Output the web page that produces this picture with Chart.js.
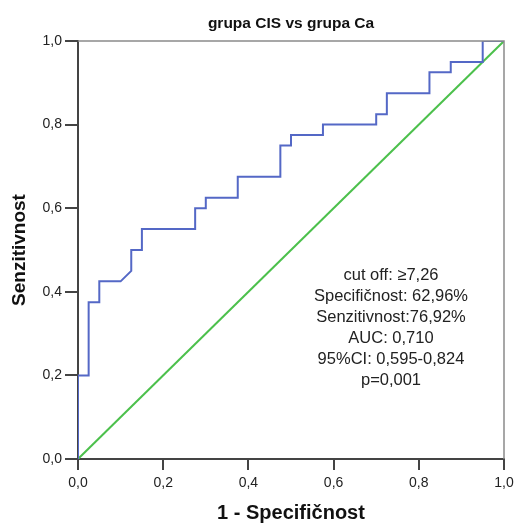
<!DOCTYPE html>
<html>
<head>
<meta charset="utf-8">
<script src="https://cdn.jsdelivr.net/npm/chart.js@4.4.1/dist/chart.umd.min.js"></script>
<style>
  body { margin: 0; background: #fff; }
  #wrap { width: 516px; height: 525px; }
</style>
</head>
<body>
<div id="wrap"><canvas id="rocChart"></canvas></div>
<script>
// ROC curve (1 - specificity, sensitivity)
const fprValues = [0, 0, 0.025, 0.025, 0.05, 0.05, 0.1, 0.125, 0.125, 0.15, 0.15, 0.275, 0.275, 0.3, 0.3,
  0.375, 0.375, 0.475, 0.475, 0.5, 0.5, 0.575, 0.575, 0.7, 0.7, 0.725, 0.725, 0.825, 0.825,
  0.875, 0.875, 0.95, 0.95, 1];
const tprValues = [0, 0.2, 0.2, 0.375, 0.375, 0.425, 0.425, 0.45, 0.5, 0.5, 0.55, 0.55, 0.6, 0.6, 0.625,
  0.625, 0.675, 0.675, 0.75, 0.75, 0.775, 0.775, 0.8, 0.8, 0.825, 0.825, 0.875, 0.875, 0.925,
  0.925, 0.95, 0.95, 1, 1];
// reference line
const refX = [0, 1];
const refY = [0, 1];
const tickValues = [0, 0.2, 0.4, 0.6, 0.8, 1];
const statLines = [
  "cut off: \u22657,26",
  "Specifičnost: 62,96%",
  "Senzitivnost:76,92%",
  "AUC: 0,710",
  "95%CI: 0,595-0,824",
  "p=0,001"
];

function toPoints(xs, ys) {
  return xs.map(function (x, i) { return { x: x, y: ys[i] }; });
}

function commaTick(value) {
  return value.toFixed(1).replace(".", ",");
}

Chart.defaults.font.family = '"Liberation Sans", Arial, sans-serif';
Chart.defaults.color = "#222";

// frame on top/right + the stats text
const extras = {
  id: "extras",
  afterDraw: function (chart) {
    const ctx = chart.ctx;
    const a = chart.chartArea;
    ctx.save();
    ctx.strokeStyle = "#8a8a8a";
    ctx.lineWidth = 1.5;
    ctx.beginPath();
    ctx.moveTo(a.left, a.top);
    ctx.lineTo(a.right, a.top);
    ctx.lineTo(a.right, a.bottom);
    ctx.stroke();

    ctx.fillStyle = "#222";
    ctx.font = '16.5px "Liberation Sans", Arial, sans-serif';
    ctx.textAlign = "center";
    ctx.textBaseline = "middle";
    statLines.forEach(function (line, i) {
      ctx.fillText(line, 391, 275 + i * 21);
    });
    ctx.restore();
  },
};

const ctx = document.getElementById("rocChart").getContext("2d");
const rocChart = new Chart(ctx, {
  type: "scatter",
  data: {
    datasets: [
      {
        data: toPoints(fprValues, tprValues),
        showLine: true,
        borderColor: "#5468c6",
        borderWidth: 2,
        pointRadius: 0,
        order: 1,
      },
      {
        data: toPoints(refX, refY),
        showLine: true,
        borderColor: "#4cc04c",
        borderWidth: 2,
        pointRadius: 0,
        order: 2,
      },
    ],
  },
  options: {
    responsive: true,
    maintainAspectRatio: false,
    animation: false,
    layout: { padding: { left: 0, right: 12, top: 0, bottom: 0 } },
    plugins: {
      legend: { display: false },
      tooltip: { enabled: false },
      title: {
        display: true,
        text: "grupa CIS vs grupa Ca",
        fullSize: false,
        color: "#111",
        font: { size: 15.5, weight: "bold", lineHeight: 1.2 },
        padding: { top: 14, bottom: 8.4 },
      },
    },
    scales: {
      x: {
        type: "linear",
        min: 0,
        max: 1,
        afterFit: function (scale) {
          scale.height = 66;
          scale.paddingLeft = 0;
          scale.paddingRight = 0;
        },
        afterBuildTicks: function (scale) {
          scale.ticks = tickValues.map(function (v) { return { value: v }; });
        },
        ticks: { callback: commaTick, font: { size: 14 }, padding: 5, color: "#222" },
        grid: { drawOnChartArea: false, tickLength: 11, color: "#444", lineWidth: 2 },
        border: { color: "#444", width: 2 },
        title: {
          display: true,
          text: "1 - Specifičnost",
          color: "#111",
          font: { size: 20, weight: "bold", lineHeight: 1.2 },
          padding: { top: 0, bottom: 0 },
        },
      },
      y: {
        type: "linear",
        min: 0,
        max: 1,
        afterFit: function (scale) {
          scale.width = 78;
          scale.paddingTop = 0;
          scale.paddingBottom = 0;
        },
        afterBuildTicks: function (scale) {
          scale.ticks = tickValues.map(function (v) { return { value: v }; });
        },
        ticks: { callback: commaTick, font: { size: 14 }, padding: 3, color: "#222" },
        grid: { drawOnChartArea: false, tickLength: 13, color: "#444", lineWidth: 2 },
        border: { color: "#444", width: 2 },
        title: {
          display: true,
          text: "Senzitivnost",
          color: "#111",
          font: { size: 19, weight: "bold", lineHeight: 1.2 },
          padding: { top: 8, bottom: 0 },
        },
      },
    },
  },
  plugins: [extras],
});
</script>
</body>
</html>
